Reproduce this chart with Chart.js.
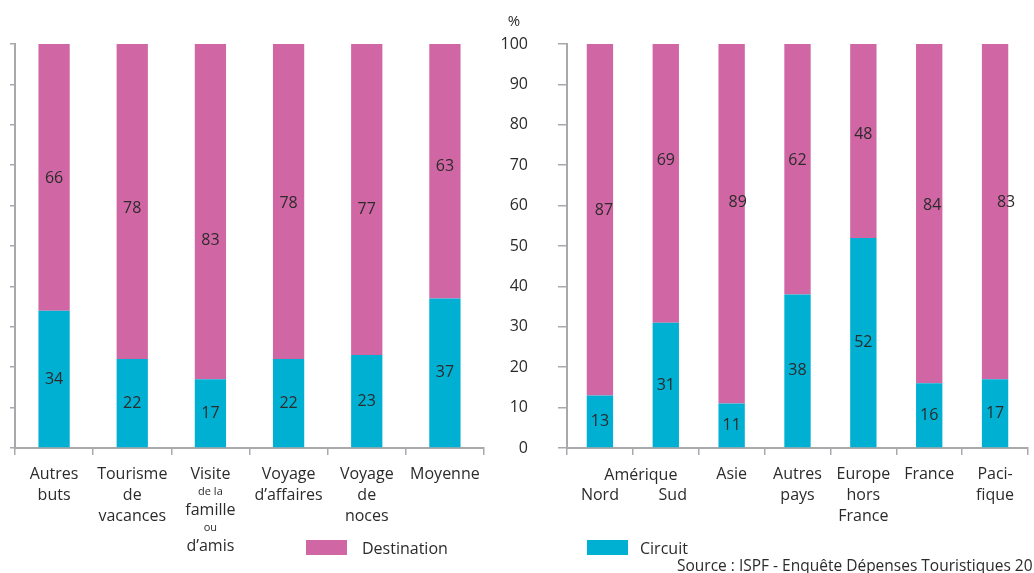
<!DOCTYPE html>
<html><head><meta charset="utf-8">
<script src="https://cdn.jsdelivr.net/npm/chart.js@4.4.1/dist/chart.umd.min.js"></script>
<style>
html,body{margin:0;padding:0;background:#fff;width:1034px;height:573px;overflow:hidden;font-family:"Open Sans",sans-serif;color:#2b2b2b}
#wl{position:absolute;left:0;top:0;width:500px;height:573px}
#wr{position:absolute;left:500px;top:0;width:534px;height:573px}
.lg{position:absolute;font-size:16px;line-height:20px;white-space:nowrap}
.sw{position:absolute;width:41px;height:15px}
#src{position:absolute;left:677px;top:555px;font-size:15.5px;line-height:20px;white-space:nowrap}
</style></head><body>
<div id="wl"><canvas id="cl"></canvas></div>
<div id="wr"><canvas id="cr"></canvas></div>
<div id="legend"></div>
<div id="src">Source : ISPF - Enquête Dépenses Touristiques 2019</div>
<script>
// ---- Data ----
const leftCategories = ["Autres buts","Tourisme de vacances","Visite de la famille ou d’amis","Voyage d’affaires","Voyage de noces","Moyenne"];
const leftCircuit     = [34, 22, 17, 22, 23, 37];
const leftDestination = [66, 78, 83, 78, 77, 63];

const rightCategories = ["Amérique Nord","Amérique Sud","Asie","Autres pays","Europe hors France","France","Pacifique"];
const rightCircuit     = [13, 31, 11, 38, 52, 16, 17];
const rightDestination = [87, 69, 89, 62, 48, 84, 83];

const yTicksMin = 0, yTicksMax = 100, yTickStep = 10;
const seriesNames = ["Circuit", "Destination"];

// ---- Display text lines for axis labels ----
const leftLabelLines = [["Autres","buts"],["Tourisme","de","vacances"],["Visite","de la","famille","ou","d’amis"],["Voyage","d’affaires"],["Voyage","de","noces"],["Moyenne"]];
const leftSmallLines = {2:[1,3]};
const rightLabelLines = [["","Nord"],["","Sud"],["Asie"],["Autres","pays"],["Europe","hors","France"],["France"],["Paci-","fique"]];
const rightLabelDx = [0,7,0,0,0,0,0];
const rightGroupLabel = {text:"Amérique", from:0, to:1};

// ---- Styles ----
const PINK = "#D166A4", CYAN = "#00B0D2", AXIS = "#A9A9AD", TEXT = "#2b2b2b";
const FONT = '"Open Sans", sans-serif';

// label nudges (pixels), to follow the reference's label placement
const leftDestShift  = {dx:[0,0,0,0,0,0], dy:[1,7,29,2,10,-5]};
const rightDestShift = {dx:[4,0,6,0,0,3,11], dy:[-9,-23,-21,-9,-7,-8,-9]};

const valueLabels = {
  id:'valueLabels',
  afterDatasetsDraw(chart, args, o){
    const ctx = chart.ctx; ctx.save();
    ctx.font = '16px ' + FONT; ctx.fillStyle = TEXT;
    ctx.textAlign = 'center'; ctx.textBaseline = 'middle';
    chart.data.datasets.forEach((ds,i)=>{
      const meta = chart.getDatasetMeta(i);
      const sh = (o.shifts && o.shifts[i]) || {};
      meta.data.forEach((bar,j)=>{
        const dx = (sh.dx||[])[j]||0, dy = (sh.dy||[])[j]||0;
        ctx.fillText(String(ds.data[j]), bar.x+dx, (bar.y+bar.base)/2+dy);
      });
    });
    ctx.restore();
  }
};

const catLabels = {
  id:'catLabels',
  afterDraw(chart, args, o){
    const ctx = chart.ctx, xs = chart.scales.x; ctx.save();
    ctx.fillStyle = TEXT; ctx.textAlign = 'center'; ctx.textBaseline = 'middle';
    const y0 = chart.chartArea.bottom + 26;
    o.lines.forEach((lines,j)=>{
      const x = xs.getPixelForValue(j) + ((o.dx && o.dx[j]) || 0);
      let y = y0, prevH = null;
      lines.forEach((ln,k)=>{
        const small = o.small && o.small[j] && o.small[j].includes(k);
        const h = small ? 15 : 21;
        if (prevH !== null) y += (prevH + h)/2;
        prevH = h;
        ctx.font = (small ? '11px ' : '16px ') + FONT;
        if (ln) ctx.fillText(ln, x, y);
      });
    });
    if (o.group){
      const g = o.group;
      const x = (xs.getPixelForValue(g.from)+xs.getPixelForValue(g.to))/2 + 8;
      ctx.font = '16px ' + FONT;
      ctx.fillText(g.text, x, y0+1);
    }
    if (o.unit){
      ctx.font = '15px ' + FONT; ctx.textAlign='center';
      ctx.fillText(o.unit, chart.chartArea.left - 53, chart.chartArea.top - 22);
    }
    ctx.restore();
  }
};

function makeChart(id, cats, circuit, dest, cfg){
  return new Chart(document.getElementById(id), {
    type:'bar',
    data:{
      labels: cats,
      datasets:[
        {label: seriesNames[0], data: circuit, backgroundColor: CYAN, barPercentage:0.4, categoryPercentage:1},
        {label: seriesNames[1], data: dest, backgroundColor: PINK, barPercentage:0.4, categoryPercentage:1}
      ]
    },
    options:{
      responsive:true, maintainAspectRatio:false, animation:false,
      layout:{padding:{top:44, right:cfg.padRight, left:0, bottom:0}},
      plugins:{
        legend:{display:false}, tooltip:{enabled:false},
        valueLabels:{shifts:[null, cfg.destShift]},
        catLabels:{lines:cfg.lines, small:cfg.small, group:cfg.group, unit:cfg.unit, dx:cfg.labelDx}
      },
      scales:{
        x:{
          stacked:true,
          grid:{offset:true, drawOnChartArea:false, drawTicks:true, tickLength:7, color:AXIS, lineWidth:1.5},
          border:{color:AXIS, width:2},
          ticks:{display:false},
          afterFit(s){ s.height = 125; }
        },
        y:{
          stacked:true, min:yTicksMin, max:yTicksMax,
          grid:{drawOnChartArea:false, drawTicks:true, tickLength:cfg.tickLen, color:AXIS, lineWidth:1.5},
          border:{color:AXIS, width:2},
          ticks:{display:cfg.showY, stepSize:yTickStep, padding:30, color:TEXT, font:{size:16, family:FONT}},
          afterFit(s){ s.width = cfg.yWidth; }
        }
      }
    },
    plugins:[valueLabels, catLabels]
  });
}

makeChart('cl', leftCategories, leftCircuit, leftDestination,
  {padRight:16, destShift:leftDestShift, lines:leftLabelLines, small:leftSmallLines, showY:false, tickLen:5, yWidth:15});
makeChart('cr', rightCategories, rightCircuit, rightDestination,
  {padRight:6, destShift:rightDestShift, lines:rightLabelLines, labelDx:rightLabelDx, group:rightGroupLabel, unit:'%', showY:true, tickLen:9, yWidth:67});

// ---- Legend ----
const legendItems = [
  {name: seriesNames[1], color: PINK, box: 306, text: 362},
  {name: seriesNames[0], color: CYAN, box: 587, text: 640}
];
const lg = document.getElementById('legend');
legendItems.forEach(it=>{
  const b = document.createElement('div'); b.className='sw';
  b.style.left = it.box+'px'; b.style.top='540px'; b.style.background = it.color;
  const t = document.createElement('div'); t.className='lg';
  t.style.left = it.text+'px'; t.style.top='538px'; t.textContent = it.name;
  lg.appendChild(b); lg.appendChild(t);
});
</script>
</body></html>
